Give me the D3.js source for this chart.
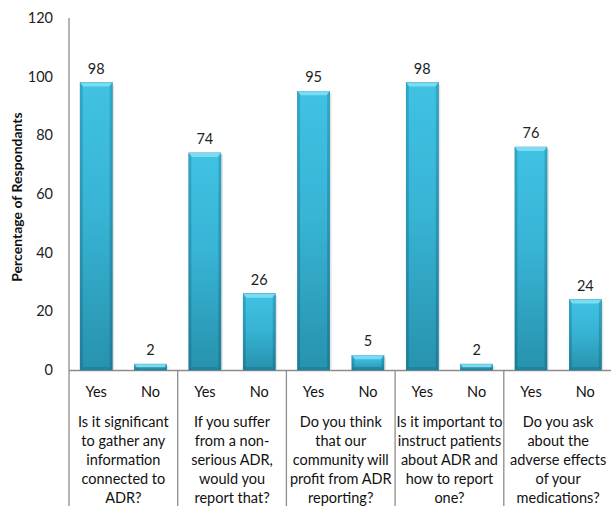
<!DOCTYPE html>
<html><head><meta charset="utf-8">
<script src="https://cdn.jsdelivr.net/npm/d3@7"></script>
<style>
html,body{margin:0;padding:0;background:#fff;}
svg{display:block;font-family:Lato,"Open Sans",sans-serif;}
</style></head>
<body><svg id="c" width="611" height="506"></svg>
<script>
const questions = [
  "Is it significant\nto gather any\ninformation\nconnected to\nADR?",
  "If you suffer\nfrom a non-\nserious ADR,\nwould you\nreport that?",
  "Do you think\nthat our\ncommunity will\nprofit from ADR\nreporting?",
  "Is it important to\ninstruct patients\nabout ADR and\nhow to report\none?",
  "Do you ask\nabout the\nadverse effects\nof your\nmedications?"
];
const answers = ["Yes", "No"];
const yesValues = [98, 74, 95, 98, 76];
const noValues = [2, 26, 5, 2, 24];
const yTicks = [0, 20, 40, 60, 80, 100, 120];
const yTitle = "Percentage of Respondants";

(function () {
const data = [];
questions.forEach((q, i) => {
  data.push({q, a: "Yes", v: yesValues[i]});
  data.push({q, a: "No", v: noValues[i]});
});

const svg = d3.select("#c");
const pL = 69, pR = 612.5, pT = 18, pB = 370;

const x0 = d3.scaleBand().domain(d3.range(questions.length)).range([pL, pR]).padding(0);
const x1 = d3.scaleBand().domain(answers).range([0, x0.bandwidth()]).paddingInner(0.41).paddingOuter(0.205);
const y = d3.scaleLinear().domain([0, 120]).range([pB, pT]);

const defs = svg.append("defs");
const g = defs.append("linearGradient").attr("id", "barg").attr("x1", 0).attr("y1", 0).attr("x2", 0).attr("y2", 1);
g.append("stop").attr("offset", "0%").attr("stop-color", "#40c2e2");
g.append("stop").attr("offset", "45%").attr("stop-color", "#38b4d5");
g.append("stop").attr("offset", "100%").attr("stop-color", "#2792ae");
const side = defs.append("linearGradient").attr("id", "sideg").attr("x1", 0).attr("y1", 0).attr("x2", 0).attr("y2", 1);
side.append("stop").attr("offset", "0%").attr("stop-color", "#2aa3c4");
side.append("stop").attr("offset", "100%").attr("stop-color", "#1c7892");

svg.append("g").selectAll("text").data(yTicks).join("text")
  .attr("x", 53).attr("y", d => y(d)).attr("dy", "0.35em")
  .attr("text-anchor", "end").attr("font-size", 14.5).attr("fill", "#222")
  .text(d => d);

svg.append("line").attr("x1", pL).attr("x2", pL).attr("y1", y(120)).attr("y2", 506)
  .attr("stroke", "#8c8c8c").attr("stroke-width", 1.3);
svg.append("line").attr("x1", pL).attr("x2", 611).attr("y1", pB + 0.5).attr("y2", pB + 0.5)
  .attr("stroke", "#8c8c8c").attr("stroke-width", 1.3);
svg.append("g").selectAll("line").data(d3.range(1, questions.length)).join("line")
  .attr("x1", i => x0(i)).attr("x2", i => x0(i)).attr("y1", pB).attr("y2", 506)
  .attr("stroke", "#8c8c8c").attr("stroke-width", 1.3);

const bars = svg.append("g").selectAll("g").data(data).join("g")
  .attr("transform", d => `translate(${x0(questions.indexOf(d.q)) + x1(d.a)},0)`);
const bw = x1.bandwidth();
bars.append("rect").attr("x", 2).attr("y", d => y(d.v) + 2).attr("width", bw).attr("height", d => pB - y(d.v) - 2)
  .attr("fill", "#d9d9d9").attr("opacity", 0.7);
bars.append("rect").attr("x", 0).attr("y", d => y(d.v)).attr("width", bw).attr("height", d => pB - y(d.v))
  .attr("fill", "url(#barg)").attr("stroke", "#1f7f99").attr("stroke-width", 0.6);
bars.append("rect").attr("x", 0).attr("y", d => y(d.v)).attr("width", 2.5).attr("height", d => pB - y(d.v))
  .attr("fill", "url(#sideg)").attr("opacity", 0.8);
bars.append("rect").attr("x", bw - 2.5).attr("y", d => y(d.v)).attr("width", 2.5).attr("height", d => pB - y(d.v))
  .attr("fill", "url(#sideg)").attr("opacity", 0.8);
bars.append("path")
  .attr("d", d => {
    const t = y(d.v), h = Math.min(4, pB - t);
    return `M0,${t} L${bw},${t} L${bw - 3},${t + h} L3,${t + h} Z`;
  })
  .attr("fill", "#7adcf2");
bars.append("path")
  .attr("d", d => {
    const t = y(d.v), h = Math.min(3, pB - t);
    return `M3,${pB - h} L${bw - 3},${pB - h} L${bw},${pB} L0,${pB} Z`;
  })
  .attr("fill", "#1d7a94").attr("opacity", 0.6);

bars.append("text").attr("x", bw / 2).attr("y", d => y(d.v) - 9)
  .attr("text-anchor", "middle").attr("font-size", 14.5).attr("fill", "#222")
  .text(d => d.v);

bars.append("text").attr("x", bw / 2).attr("y", 397)
  .attr("text-anchor", "middle").attr("font-size", 14.5).attr("fill", "#111")
  .text(d => d.a);

const ql = svg.append("g").selectAll("text").data(questions).join("text")
  .attr("x", (d, i) => x0(i) + x0.bandwidth() / 2).attr("y", 427)
  .attr("text-anchor", "middle").attr("font-size", 14.5).attr("fill", "#111");
ql.selectAll("tspan").data(d => d.split("\n")).join("tspan")
  .attr("x", function() { return d3.select(this.parentNode).attr("x"); })
  .attr("dy", (d, i) => i === 0 ? 0 : 19.1)
  .text(d => d);

svg.append("text").attr("transform", `translate(22,197) rotate(-90)`)
  .attr("text-anchor", "middle").attr("font-size", 14).attr("font-weight", "bold").attr("fill", "#111")
  .text(yTitle);
})();
</script></body></html>
